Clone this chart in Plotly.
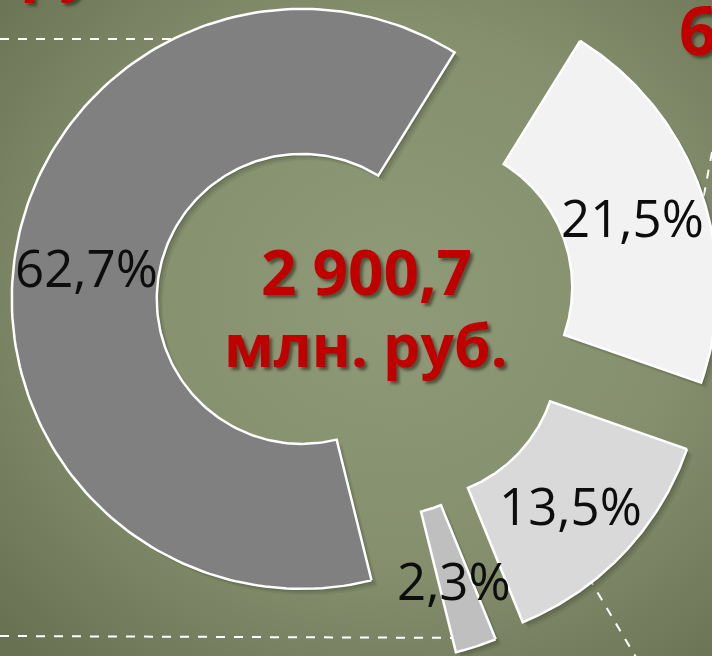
import math
import base64
import plotly.graph_objects as go

# shares of the 2 900,7 mln rub. total, drawn clockwise from the start angle
shares = [21.5, 13.5, 2.3, 62.7]
share_labels = ["21,5%", "13,5%", "2,3%", "62,7%"]
slice_colors = ["#f2f2f2", "#d9d9d9", "#bfbfbf", "#808080"]
total_lines = ["2 900,7", "млн. руб."]

W, H = 712, 656
CX, CY = 366, 309          # donut centre in px
R_OUT, R_IN = 290, 145
PULL = 65                  # explode distance in px
START = 58.2               # degrees, counter-clockwise from 3 o'clock

RED = "#c00000"
FONT = "Open Sans"


def wedge(a0, a1, dx, dy, n=160):
    xs, ys = [], []
    for i in range(n + 1):
        t = math.radians(a0 + (a1 - a0) * i / n)
        xs.append(CX + dx + R_OUT * math.cos(t))
        ys.append(CY + dy - R_OUT * math.sin(t))
    for i in range(n + 1):
        t = math.radians(a1 + (a0 - a1) * i / n)
        xs.append(CX + dx + R_IN * math.cos(t))
        ys.append(CY + dy - R_IN * math.sin(t))
    xs.append(xs[0])
    ys.append(ys[0])
    return xs, ys


def background_uri():
    svg = (
        '<svg xmlns="http://www.w3.org/2000/svg" width="712" height="656">'
        '<defs><radialGradient id="g" cx="0.55" cy="0.45" r="0.75">'
        '<stop offset="0" stop-color="#8f9a79"/>'
        '<stop offset="0.55" stop-color="#858f6e"/>'
        '<stop offset="1" stop-color="#687152"/>'
        '</radialGradient></defs>'
        '<rect width="712" height="656" fill="url(#g)"/></svg>'
    )
    return "data:image/svg+xml;base64," + base64.b64encode(svg.encode()).decode()


fig = go.Figure()

# geometry of every slice
slices = []
angle = START
for share in shares:
    end = angle - share * 3.6
    mid = math.radians((angle + end) / 2)
    slices.append((angle, end, PULL * math.cos(mid), -PULL * math.sin(mid), mid))
    angle = end

# soft shadows first
for a0, a1, dx, dy, mid in slices:
    for off, alpha in [(6, 0.08), (4, 0.12), (2, 0.15)]:
        xs, ys = wedge(a0, a1, dx + off, dy + off)
        fig.add_trace(go.Scatter(x=xs, y=ys, mode="lines", fill="toself",
                                 fillcolor="rgba(30,35,20,%s)" % alpha,
                                 line=dict(width=0), hoverinfo="skip", showlegend=False))

for (a0, a1, dx, dy, mid), color, label in zip(slices, slice_colors, share_labels):
    xs, ys = wedge(a0, a1, dx, dy)
    fig.add_trace(go.Scatter(x=xs, y=ys, mode="lines", fill="toself", fillcolor=color,
                             line=dict(color="white", width=2.5), name=label,
                             hoverinfo="name", showlegend=False))
    rm = (R_OUT + R_IN) / 2
    fig.add_annotation(x=CX + dx + rm * math.cos(mid), y=CY + dy - rm * math.sin(mid),
                       text=label, showarrow=False, yshift=-2,
                       font=dict(family=FONT, size=51, color="#0d0d0d", weight=500))

shadow = "3px 3px 3px rgba(40,40,20,0.6)"
fig.add_annotation(x=CX, y=271, text=total_lines[0], showarrow=False,
                   font=dict(family=FONT, size=62, color=RED, weight=700, shadow=shadow))
fig.add_annotation(x=CX, y=344, text=total_lines[1], showarrow=False,
                   font=dict(family=FONT, size=59, color=RED, weight=700, shadow=shadow))

# pieces of the neighbouring slide text, cut by the frame
fig.add_annotation(xref="paper", yref="paper", x=18 / W, y=1 + 36 / H,
                   xanchor="left", yanchor="middle", text="руб.", showarrow=False,
                   font=dict(family=FONT, size=62, color=RED, weight=700, shadow=shadow))
fig.add_annotation(xref="paper", yref="paper", x=677 / W, y=1 - 29 / H,
                   xanchor="left", yanchor="middle", text="6", showarrow=False,
                   font=dict(family=FONT, size=66, color=RED, weight=700, shadow=shadow))

# dashed connector lines running under the slices
dash = dict(color="white", width=2, dash="dash")
for x0, y0, x1, y1 in [(0, 39, 300, 39), (0, 636, 480, 638),
                       (712, 152, 688, 280), (570, 546, 640, 664)]:
    fig.add_shape(type="line", x0=x0, y0=y0, x1=x1, y1=y1, line=dash, layer="below")

fig.add_layout_image(source=background_uri(), xref="paper", yref="paper", x=0, y=1,
                     sizex=1, sizey=1, sizing="stretch", layer="below")

fig.update_layout(
    width=W, height=H,
    margin=dict(l=0, r=0, t=0, b=0),
    paper_bgcolor="#838d6d",
    plot_bgcolor="rgba(0,0,0,0)",
    xaxis=dict(range=[0, W], visible=False, fixedrange=True),
    yaxis=dict(range=[H, 0], visible=False, fixedrange=True),
    showlegend=False,
)

fig.write_html("out.html", config={"displayModeBar": False},
               post_script="document.body.style.margin = '0';")
